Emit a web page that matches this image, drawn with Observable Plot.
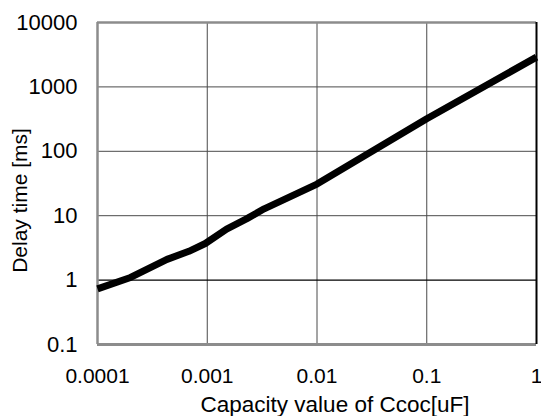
<!DOCTYPE html>
<html>
<head>
<meta charset="utf-8">
<script src="https://cdn.jsdelivr.net/npm/d3@7"></script>
<script src="https://cdn.jsdelivr.net/npm/@observablehq/plot@0.6"></script>
<style>
  html, body { margin: 0; padding: 0; background: #fff; }
  #chart { width: 541px; height: 416px; }
</style>
</head>
<body>
<div id="chart"></div>
<script>
// Data
const capacity = [0.0001, 0.0002, 0.00043, 0.00068, 0.00096, 0.0015, 0.0023, 0.0033, 0.01, 0.1, 1];
const delay    = [0.73,   1.1,    2.1,     2.8,     3.7,     6.2,    9.0,    12.8,   31,   320, 2900];

const xTicks = [0.0001, 0.001, 0.01, 0.1, 1];
const xTickLabels = ["0.0001", "0.001", "0.01", "0.1", "1"];
const yTicks = [0.1, 1, 10, 100, 1000, 10000];
const yTickLabels = ["0.1", "1", "10", "100", "1000", "10000"];

const xTitle = "Capacity value of Ccoc[uF]";
const yTitle = "Delay time [ms]";

const data = capacity.map((c, i) => ({c, d: delay[i]}));
const xLab = d => xTickLabels[xTicks.indexOf(d)];
const yLab = d => yTickLabels[yTicks.indexOf(d)];

const chart = Plot.plot({
  width: 541,
  height: 416,
  marginLeft: 97,
  marginRight: 5,
  marginTop: 22,
  marginBottom: 72,
  style: {fontFamily: "'Liberation Sans', Arial, sans-serif", fontSize: "21px", color: "#000", background: "#fff", overflow: "visible"},
  x: {type: "log", domain: [0.0001, 1]},
  y: {type: "log", domain: [0.1, 10000]},
  marks: [
    // gridlines
    Plot.ruleX(xTicks.slice(1, -1), {stroke: "#4a4a4a", strokeWidth: 1, strokeOpacity: 1}),
    Plot.ruleY(yTicks.slice(1, -1).filter(v => v !== 1), {stroke: "#4a4a4a", strokeWidth: 1, strokeOpacity: 1}),
    Plot.ruleY([1], {stroke: "#000", strokeWidth: 1.2, strokeOpacity: 1}),
    // frame
    Plot.ruleX([0.0001], {stroke: "#8c8c8c", strokeWidth: 2.5}),
    Plot.ruleY([10000], {stroke: "#8c8c8c", strokeWidth: 2.5}),
    Plot.ruleY([0.1], {stroke: "#8c8c8c", strokeWidth: 3}),
    Plot.ruleX([1], {stroke: "#000", strokeWidth: 2}),
    // axes
    Plot.axisX(xTicks, {tickSize: 0, tickPadding: 24, tickFormat: xLab, label: null, fontSize: 21, fill: "#000"}),
    Plot.axisY(yTicks, {tickSize: 0, tickPadding: 20, tickFormat: yLab, label: null, fontSize: 22, fill: "#000"}),
    // data line
    Plot.line(data, {x: "c", y: "d", stroke: "#000", strokeWidth: 7, strokeLinejoin: "round", strokeLinecap: "butt"}),
    // titles
    Plot.text([xTitle], {frameAnchor: "bottom", text: d => d, textAnchor: "middle", dx: 18, dy: 60, lineAnchor: "middle", fontSize: 22.5, fill: "#000"}),
    Plot.text([yTitle], {frameAnchor: "left", text: d => d, textAnchor: "middle", rotate: -90, dx: -77, dy: 17, lineAnchor: "middle", fontSize: 21, fill: "#000"})
  ]
});
document.getElementById("chart").appendChild(chart);
</script>
</body>
</html>
